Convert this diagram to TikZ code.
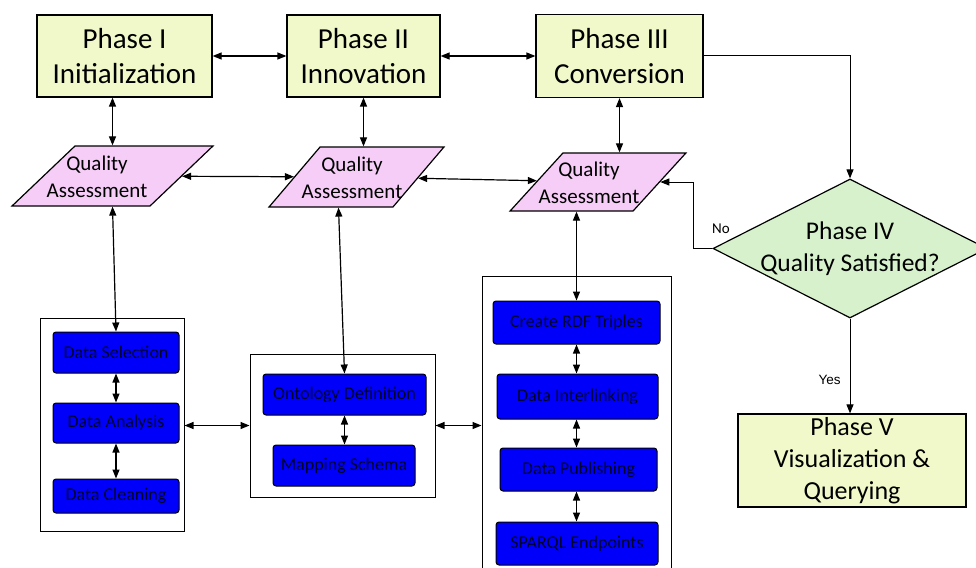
\documentclass[tikz,border=0pt]{standalone}
\usepackage{fontspec}
\setmainfont{Carlito}
\setsansfont{Liberation Sans}
\usetikzlibrary{shapes.geometric,arrows.meta}
\definecolor{phasefill}{RGB}{241,249,202}
\definecolor{qafill}{RGB}{245,205,247}
\definecolor{diafill}{RGB}{214,241,204}
\definecolor{itemfill}{RGB}{0,0,250}
\definecolor{itemtext}{RGB}{0,0,40}
\tikzset{
  phase/.style={draw, line width=1.2pt, fill=phasefill, inner sep=0pt, align=center,
    font=\fontsize{29}{35}\selectfont},
  qa/.style={trapezium, trapezium stretches=true, draw, line width=1.2pt, fill=qafill,
    inner sep=3pt, minimum height=60pt},
  qatext/.style={align=center, inner sep=0pt, font=\fontsize{21}{27}\selectfont},
  grp/.style={draw, line width=1pt, inner sep=0pt},
  item/.style={draw, rounded corners=3pt, fill=itemfill, line width=1pt, inner sep=0pt,
    text=itemtext, font=\fontsize{18}{20}\selectfont},
  conn/.style={line width=1.2pt, {Triangle[length=9pt,width=7pt]}-{Triangle[length=9pt,width=7pt]}},
  oneway/.style={line width=1pt, -{Triangle[length=9pt,width=7pt]}},
}
\begin{document}
\begin{tikzpicture}[x=1pt,y=-1pt]
\useasboundingbox (0,0) rectangle (976,567);

% phase boxes
\node[phase, minimum width=175pt, minimum height=82pt] (p1) at (124.5,56) {Phase I\\Initialization};
\node[phase, minimum width=153pt, minimum height=82pt] (p2) at (363.5,56) {Phase II\\Innovation};
\node[phase, minimum width=167pt, minimum height=83pt] (p3) at (619.5,56) {Phase III\\Conversion};
\node[phase, minimum width=228pt, minimum height=93pt, font=\fontsize{26}{32}\selectfont] (p5) at (852,460.5) {Phase V\\Visualization \&\\Querying};

% quality assessment parallelograms
\node[qa, minimum width=201pt, trapezium left angle=50, trapezium right angle=130] (qa1) at (112.5,176) {};
\node[qa, minimum width=175pt, trapezium left angle=55, trapezium right angle=125] (qa2) at (356.5,177) {};
\node[qa, minimum width=176pt, minimum height=58pt, trapezium left angle=53, trapezium right angle=127] (qa3) at (598,182) {};
\node[qatext] (qa1t) at (97,176.5) {Quality\\Assessment};
\node[qatext] (qa2t) at (352,177.5) {Quality\\Assessment};
\node[qatext] (qa3t) at (589,182.5) {Quality\\Assessment};

% diamond
\node[diamond, draw, line width=1.2pt, fill=diafill, minimum width=274pt, minimum height=139pt, inner sep=0pt] (dia) at (850,248.5) {};
\node[align=center, inner sep=0pt, font=\fontsize{25.5}{32}\selectfont] (diat) at (dia.center) {Phase IV\\Quality Satisfied?};

% groups
\node[grp, minimum width=144pt, minimum height=213pt] (g1) at (112,424.5) {};
\node[grp, minimum width=185pt, minimum height=143pt] (g2) at (342.5,425.5) {};
\node[grp, minimum width=189pt, minimum height=340pt] (g3) at (576.5,446) {};

% items
\node[item, minimum width=126pt, minimum height=41pt] (ds) at (116,352.5) {Data Selection};
\node[item, minimum width=126pt, minimum height=40pt] (da) at (116,423) {Data Analysis};
\node[item, minimum width=126pt, minimum height=34pt] (dc) at (116,496) {Data Cleaning};
\node[item, minimum width=163pt, minimum height=41pt] (od) at (344.5,394.5) {Ontology Definition};
\node[item, minimum width=142pt, minimum height=41pt] (ms) at (344,465.5) {Mapping Schema};
\node[item, minimum width=167pt, minimum height=43pt] (rdf) at (576.5,322.5) {Create RDF Triples};
\node[item, minimum width=161pt, minimum height=45pt] (dil) at (577.5,396.5) {Data Interlinking};
\node[item, minimum width=157pt, minimum height=43pt] (dp) at (578.5,469.5) {Data Publishing};
\node[item, minimum width=162pt, minimum height=43pt] (sp) at (577,543.5) {SPARQL Endpoints};

% labels
\node[inner sep=0pt, font=\fontsize{15}{18}\selectfont] (nolbl) at (721,229) {No};
\node[inner sep=0pt, font=\sffamily\fontsize{13.5}{16}\selectfont] (yeslbl) at (829.5,380) {Yes};

% connectors
\draw[conn] (p1.east) -- (p2.west);
\draw[conn] (p2.east) -- (p3.west);
\draw[conn] (p1.south -| qa1.north) -- (qa1.north);
\draw[conn] (p2.south) -- (p2.south |- qa2.north);
\draw[conn] (p3.south) -- (p3.south |- qa3.north);
\draw[conn] (qa1) -- (qa2);
\draw[conn] (qa2) -- (qa3);
\draw[conn] (qa1.south) -- (ds.north);
\draw[conn] ([xshift=-18pt]qa2.south) -- (od.north);
\draw[conn] (rdf.north |- qa3.south) -- (rdf.north);
\draw[conn] (ds.south) -- (da.north);
\draw[conn] (da.south) -- (dc.north);
\draw[conn] (od.south) -- (od.south |- ms.north);
\draw[conn] (rdf.south) -- (rdf.south |- dil.north);
\draw[conn] (rdf.south |- dil.south) -- (rdf.south |- dp.north);
\draw[conn] (rdf.south |- dp.south) -- (rdf.south |- sp.north);
\draw[conn] (g1.east |- g2.west) -- (g2.west);
\draw[conn] (g2.east) -- (g2.east -| g3.west);
\draw[oneway] (p3.east) -| (dia.north);
\draw[oneway] (dia.west) -- ++(-19pt,0) |- (qa3.east);
\draw[oneway] (dia.south) -- (dia.south |- p5.north);
\end{tikzpicture}
\end{document}
